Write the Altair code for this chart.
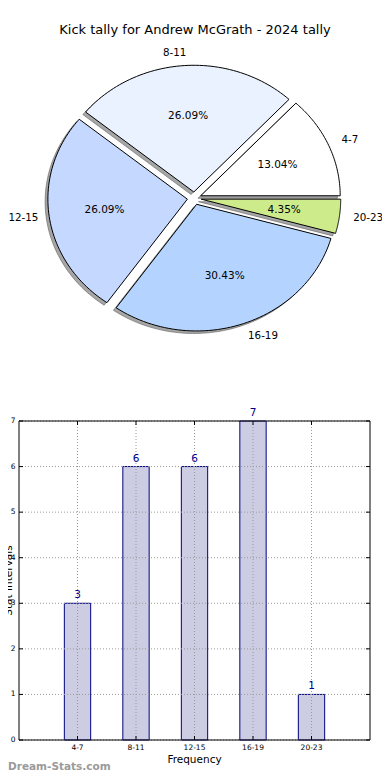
import altair as alt
import numpy as np
import pandas as pd

# ---------------- data ----------------
title_text = "Kick tally for Andrew McGrath - 2024 tally"
intervals = ["4-7", "8-11", "12-15", "16-19", "20-23"]
kicks = [3, 6, 6, 7, 1]
y_ticks = [0, 1, 2, 3, 4, 5, 6, 7]
x_title = "Frequency"
y_title = "Stat Intervals"
watermark = "Dream-Stats.com"

# ---------------- styles ----------------
slice_colors = ["#ffffff", "#eaf2ff", "#c5d8ff", "#b4d4ff", "#cdeb8b"]
explode = [0.05, 0.05, 0.05, 0.05, 0.05]
FONT = "DejaVu Sans"
W, H = 374, 764
PIE_CX, PIE_CY, PIE_RX, PIE_RY = 186.3, 190.3, 139.5, 126.7
BAR_X0, BAR_X1, BAR_Y0, BAR_Y1 = 11, 362, 413, 732
BAR_W = 0.45
TICK = 4
N_SEG = 60
SHADOW = -0.02

pie_df = pd.DataFrame({"label": intervals, "kicks": kicks,
                       "explode": explode, "idx": range(len(intervals))})
bar_df = pd.DataFrame({"label": intervals, "kicks": kicks,
                       "pos": np.arange(1, len(intervals) + 1)})
tick_df = pd.DataFrame({"tick": y_ticks})

# ---------------- pie ----------------
px_scale = alt.Scale(domain=[-1, 1], range=[PIE_CX - PIE_RX, PIE_CX + PIE_RX], nice=False, zero=False)
py_scale = alt.Scale(domain=[-1, 1], range=[PIE_CY + PIE_RY, PIE_CY - PIE_RY], nice=False, zero=False)


def pie_base():
    return (
        alt.Chart(pie_df)
        .transform_joinaggregate(total="sum(kicks)")
        .transform_window(cum="sum(kicks)", sort=[alt.SortField("idx")], frame=[None, 0])
        .transform_calculate(a0="2*PI*(datum.cum - datum.kicks)/datum.total")
        .transform_calculate(a1="2*PI*datum.cum/datum.total")
        .transform_calculate(mid="(datum.a0 + datum.a1)/2")
        .transform_calculate(ox="datum.explode*cos(datum.mid)")
        .transform_calculate(oy="datum.explode*sin(datum.mid)")
    )


def wedges(shift):
    return (
        pie_base()
        .transform_calculate(steps=f"sequence(0, {N_SEG + 3})")
        .transform_flatten(["steps"])
        .transform_calculate(apex=f"datum.steps == 0 || datum.steps == {N_SEG + 2}")
        .transform_calculate(ang=f"datum.a0 + (datum.a1 - datum.a0)*(datum.steps - 1)/{N_SEG}")
        .transform_calculate(px=f"datum.ox + (datum.apex ? 0 : cos(datum.ang)) + ({shift})")
        .transform_calculate(py=f"datum.oy + (datum.apex ? 0 : sin(datum.ang)) + ({shift})")
    )


pie_enc = dict(
    x=alt.X("px:Q", scale=px_scale, axis=None),
    y=alt.Y("py:Q", scale=py_scale, axis=None),
    detail="label:N",
    order="steps:Q",
)

shadow_layer = wedges(SHADOW).mark_line(
    fill="#4d4d4d", fillOpacity=0.5, stroke="#4d4d4d", strokeOpacity=0.5, strokeWidth=1
).encode(**pie_enc)

wedge_layer = wedges(0).mark_line(stroke="black", strokeWidth=1).encode(
    fill=alt.Fill("label:N", scale=alt.Scale(domain=intervals, range=slice_colors), legend=None),
    **pie_enc,
)

lab = (
    pie_base()
    .transform_calculate(lx="datum.ox + 1.1*cos(datum.mid)")
    .transform_calculate(ly="datum.oy + 1.1*sin(datum.mid)")
)
lab_enc = dict(
    x=alt.X("lx:Q", scale=px_scale, axis=None),
    y=alt.Y("ly:Q", scale=py_scale, axis=None),
    text="label:N",
)
lab_right = lab.transform_filter("datum.lx > 0").mark_text(
    align="left", baseline="middle", font=FONT, fontSize=10.3, color="black"
).encode(**lab_enc)
lab_left = lab.transform_filter("datum.lx <= 0").mark_text(
    align="right", baseline="middle", font=FONT, fontSize=10.3, color="black", dx=3
).encode(**lab_enc)

pct = (
    pie_base()
    .transform_calculate(tx="datum.ox + 0.6*cos(datum.mid)")
    .transform_calculate(ty="datum.oy + 0.6*sin(datum.mid)")
    .transform_calculate(pct="format(datum.kicks/datum.total, '.2%')")
    .mark_text(align="center", baseline="middle", font=FONT, fontSize=10.5, color="black")
    .encode(
        x=alt.X("tx:Q", scale=px_scale, axis=None),
        y=alt.Y("ty:Q", scale=py_scale, axis=None),
        text="pct:N",
    )
)

pie_layer = alt.layer(shadow_layer, wedge_layer, lab_right, lab_left, pct)

# ---------------- bar chart ----------------
x_max = len(intervals) + 1
y_max = max(kicks)
bx = alt.Scale(domain=[0, x_max], range=[BAR_X0, BAR_X1], nice=False, zero=False)
by = alt.Scale(domain=[0, y_max], range=[BAR_Y1, BAR_Y0], nice=False, zero=False)

bars = (
    alt.Chart(bar_df)
    .transform_calculate(x0=f"datum.pos - {BAR_W / 2}", x1=f"datum.pos + {BAR_W / 2}")
    .mark_rect(fill="#ccccE3", stroke="#000080", strokeWidth=1)
    .encode(
        x=alt.X("x0:Q", scale=bx, axis=None),
        x2="x1:Q",
        y=alt.Y("kicks:Q", scale=by, axis=None),
        y2=alt.datum(0),
    )
)

grid_style = dict(stroke="#9a9a9a", strokeWidth=1, strokeDash=[1, 2])
hgrid = alt.Chart(tick_df).mark_rule(**grid_style).encode(
    y=alt.Y("tick:Q", scale=by, axis=None),
    x=alt.XDatum(0, type="quantitative", scale=bx, axis=None),
    x2=alt.datum(x_max),
)
vgrid = alt.Chart(bar_df).mark_rule(**grid_style).encode(
    x=alt.X("pos:Q", scale=bx, axis=None),
    y=alt.YDatum(0, type="quantitative", scale=by, axis=None),
    y2=alt.datum(y_max),
)

# small inward tick marks on all four sides
tick_style = dict(stroke="black", strokeWidth=1)
yticks_left = alt.Chart(tick_df).mark_rule(**tick_style).encode(
    y=alt.Y("tick:Q", scale=by, axis=None),
    x=alt.value(BAR_X0), x2=alt.value(BAR_X0 + TICK),
)
yticks_right = alt.Chart(tick_df).mark_rule(**tick_style).encode(
    y=alt.Y("tick:Q", scale=by, axis=None),
    x=alt.value(BAR_X1 - TICK), x2=alt.value(BAR_X1),
)
xticks_bottom = alt.Chart(bar_df).mark_rule(**tick_style).encode(
    x=alt.X("pos:Q", scale=bx, axis=None),
    y=alt.value(BAR_Y1 - TICK), y2=alt.value(BAR_Y1),
)
xticks_top = alt.Chart(bar_df).mark_rule(**tick_style).encode(
    x=alt.X("pos:Q", scale=bx, axis=None),
    y=alt.value(BAR_Y0), y2=alt.value(BAR_Y0 + TICK),
)

frame = alt.Chart(pd.DataFrame({"f": [0]})).mark_rect(
    filled=False, stroke="black", strokeWidth=1
).encode(
    x=alt.XDatum(0, type="quantitative", scale=bx, axis=None),
    x2=alt.datum(x_max),
    y=alt.YDatum(0, type="quantitative", scale=by, axis=None),
    y2=alt.datum(y_max),
)

xlabels = alt.Chart(bar_df).mark_text(
    baseline="middle", align="center", font=FONT, fontSize=7.5, color="black", dy=8
).encode(
    x=alt.X("pos:Q", scale=bx, axis=None),
    y=alt.YDatum(0, type="quantitative", scale=by, axis=None),
    text="label:N",
)
ylabels = alt.Chart(tick_df).mark_text(
    baseline="middle", align="right", font=FONT, fontSize=7.5, color="black", dx=-3.5
).encode(
    y=alt.Y("tick:Q", scale=by, axis=None),
    x=alt.XDatum(0, type="quantitative", scale=bx, axis=None),
    text="tick:Q",
)
values = alt.Chart(bar_df).mark_text(
    baseline="middle", align="center", font=FONT, fontSize=10.5, color="#00008b", dy=-8
).encode(
    x=alt.X("pos:Q", scale=bx, axis=None),
    y=alt.Y("kicks:Q", scale=by, axis=None),
    text="kicks:Q",
)
xtitle = alt.Chart(pd.DataFrame({"t": [x_title]})).mark_text(
    baseline="middle", align="center", font=FONT, fontSize=10.5, color="black", dy=20
).encode(
    x=alt.XDatum(x_max / 2, type="quantitative", scale=bx, axis=None),
    y=alt.YDatum(0, type="quantitative", scale=by, axis=None),
    text="t:N",
)
ytitle = alt.Chart(pd.DataFrame({"t": [y_title]})).mark_text(
    baseline="top", align="center", font=FONT, fontSize=10.5, color="black", angle=270, dy=-15
).encode(
    x=alt.XDatum(0, type="quantitative", scale=bx, axis=None),
    y=alt.YDatum(y_max / 2, type="quantitative", scale=by, axis=None),
    text="t:N",
)

bar_layer = alt.layer(
    bars, vgrid, hgrid, yticks_left, yticks_right, xticks_bottom, xticks_top,
    frame, xlabels, ylabels, values, xtitle, ytitle,
)

# ---------------- texts ----------------
title_layer = alt.Chart(pd.DataFrame({"t": [title_text]})).mark_text(
    baseline="middle", align="center", font=FONT, fontSize=13, color="black"
).encode(x=alt.value(187), y=alt.value(22), text="t:N")

wm_layer = alt.Chart(pd.DataFrame({"t": [watermark]})).mark_text(
    baseline="bottom", align="left", font=FONT, fontSize=10.5, fontWeight="bold", color="#9a9a9a"
).encode(x=alt.value(0), y=alt.value(H), text="t:N")

chart = (
    alt.layer(title_layer, pie_layer, bar_layer, wm_layer)
    .resolve_scale(x="independent", y="independent")
    .properties(width=W, height=H, autosize=alt.AutoSizeParams(type="none"), padding=0)
    .configure_view(stroke=None)
    .configure_axis(disable=True)
    .configure_legend(disable=True)
)

chart.save("out.html", embed_options={"renderer": "svg", "actions": False})
